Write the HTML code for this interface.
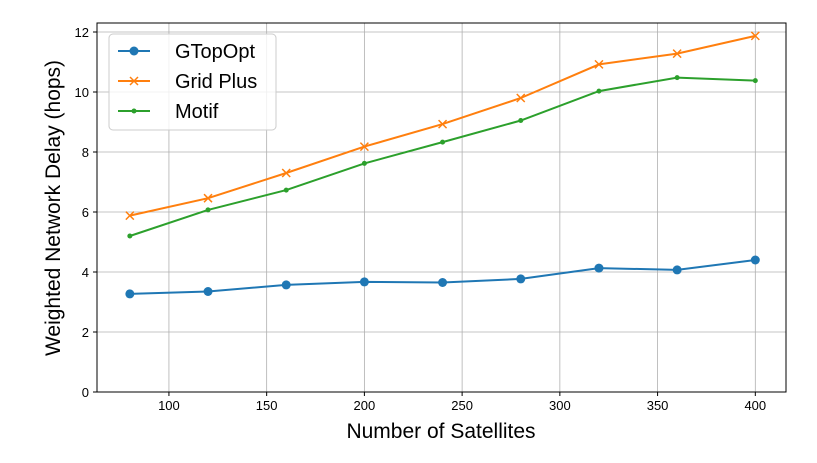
<!DOCTYPE html>
<html><head><meta charset="utf-8">
<style>
body{margin:0;background:#fff;}
svg{display:block;font-family:"Liberation Sans","DejaVu Sans",sans-serif;}
</style></head>
<body>
<svg id="chart" width="817" height="463" viewBox="0 0 817 463">
<g id="grid"></g>
<g id="series"></g>
<rect x="97" y="23" width="689" height="369" fill="none" stroke="#000" stroke-width="1"/>
<g id="ticks"></g>
<text x="441" y="438" font-size="21" text-anchor="middle">Number of Satellites</text>
<text transform="translate(60,208) rotate(-90)" font-size="21" text-anchor="middle">Weighted Network Delay (hops)</text>
<g>
<rect x="109" y="34" width="167" height="96" rx="4" fill="#fff" fill-opacity="0.8" stroke="#ccc"/>
<g>
<line x1="118" y1="51" x2="150" y2="51" stroke="#1f77b4" stroke-width="2"/><circle cx="134" cy="51" r="4.5" fill="#1f77b4"/>
<text x="175" y="58" font-size="20">GTopOpt</text></g>
<g>
<line x1="118" y1="81" x2="150" y2="81" stroke="#ff7f0e" stroke-width="2"/><path d="M130,77L138,85M130,85L138,77" stroke="#ff7f0e" stroke-width="1.5"/>
<text x="175" y="88" font-size="20">Grid Plus</text></g>
<g>
<line x1="118" y1="111" x2="150" y2="111" stroke="#2ca02c" stroke-width="2"/><circle cx="134" cy="111" r="2.5" fill="#2ca02c"/>
<text x="175" y="118" font-size="20">Motif</text></g>
</g>
</svg>
<script>
const satellites=[80,120,160,200,240,280,320,360,400];
const gtopopt=[3.27,3.35,3.57,3.67,3.65,3.77,4.13,4.07,4.4];
const gridPlus=[5.88,6.46,7.3,8.18,8.93,9.8,10.92,11.28,11.87];
const motif=[5.2,6.07,6.73,7.62,8.33,9.05,10.03,10.48,10.38];
const xTicks=[100,150,200,250,300,350,400];
const yTicks=[0,2,4,6,8,10,12];
const NS="http://www.w3.org/2000/svg";
const L=97,R=786,T=23,B=392,X0=63.2,X1=415.7,Y0=0,Y1=12.3;
const sx=v=>L+(v-X0)/(X1-X0)*(R-L);
const sy=v=>B-(v-Y0)/(Y1-Y0)*(B-T);
function mk(tag,attrs,parent){const e=document.createElementNS(NS,tag);for(const k in attrs)e.setAttribute(k,attrs[k]);parent.appendChild(e);return e;}
const grid=document.getElementById('grid'),ticks=document.getElementById('ticks'),ser=document.getElementById('series');
xTicks.forEach(t=>{const x=sx(t);
 const g=mk('line',{x1:x,x2:x,y1:T,y2:B,stroke:'#b0b0b0','stroke-width':0.8},grid);
 
 
 mk('line',{x1:x,x2:x,y1:B,y2:B+4,stroke:'#000'},ticks);
 const tx=mk('text',{x:x,y:B+18,'font-size':13,'text-anchor':'middle'},ticks);tx.textContent=t;
 
 });
yTicks.forEach(t=>{const y=sy(t);
 const g=mk('line',{x1:L,x2:R,y1:y,y2:y,stroke:'#b0b0b0','stroke-width':0.8},grid);
 
 
 mk('line',{x1:L-4,x2:L,y1:y,y2:y,stroke:'#000'},ticks);
 const tx=mk('text',{x:L-8,y:y+5,'font-size':13,'text-anchor':'end'},ticks);tx.textContent=t;
 
 });
function draw(vals,color,marker,name){
 const pts=satellites.map((s,i)=>sx(s)+','+sy(vals[i])).join(' ');
 const pl=mk('polyline',{points:pts,fill:'none',stroke:color,'stroke-width':2},ser);
 
 
 satellites.forEach((s,i)=>{const x=sx(s),y=sy(vals[i]);let m;
  if(marker==='o')m=mk('circle',{cx:x,cy:y,r:4.5,fill:color},ser);
  else if(marker==='.')m=mk('circle',{cx:x,cy:y,r:2.5,fill:color},ser);
  else m=mk('path',{d:`M${x-4},${y-4}L${x+4},${y+4}M${x-4},${y+4}L${x+4},${y-4}`,stroke:color,'stroke-width':1.5},ser);
  
  });
}
draw(gtopopt,'#1f77b4','o','gtopopt');
draw(gridPlus,'#ff7f0e','x','grid-plus');
draw(motif,'#2ca02c','.','motif');
</script>
</body></html>
